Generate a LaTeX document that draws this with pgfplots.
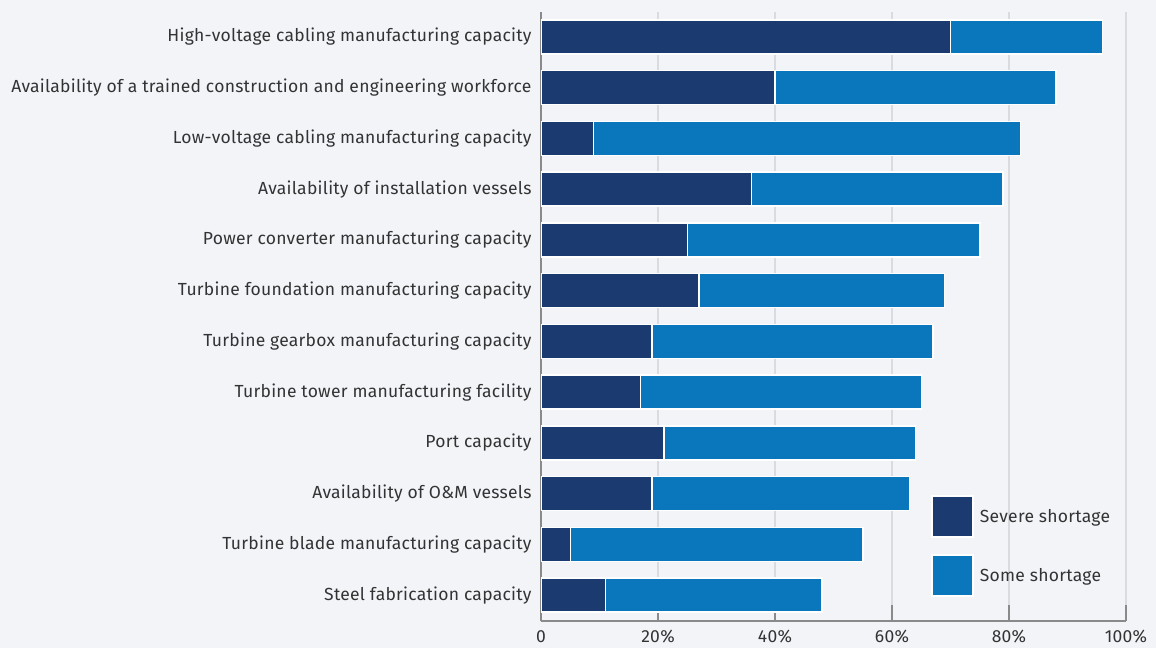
\documentclass[border=0pt]{standalone}
\usepackage{fontspec}
\setmainfont{Fira Sans}[LetterSpace=1.5]
\usepackage{pgfplots}
\pgfplotsset{compat=1.18}
\definecolor{bg}{HTML}{F3F4F8}
\definecolor{navy}{HTML}{1B3A6F}
\definecolor{sblue}{HTML}{0A76BC}
\definecolor{gridc}{HTML}{DADBE0}
\definecolor{axisc}{HTML}{8A8A8A}
\definecolor{txt}{HTML}{333333}
\begin{document}
\begin{tikzpicture}[x=1pt,y=1pt]
\fill[bg] (0,0) rectangle (1156,648);
\useasboundingbox (0,0) rectangle (1156,648);
\begin{axis}[
  at={(541pt,27pt)}, anchor=south west,
  width=585pt, height=609pt, scale only axis,
  xbar stacked, bar width=34pt,
  xmin=0, xmax=100, ymin=-0.51, ymax=11.49,
  axis x line=bottom, axis y line=left,
  axis line style={-, axisc, line width=1.5pt},
  xtick={0,20,...,100}, xticklabels={0,20\%,40\%,60\%,80\%,100\%},
  xmajorgrids, grid style={gridc, line width=1.5pt},
  major tick length=16pt, tick align=inside,
  xtick style={axisc, line width=1.5pt},
  ytick={0,...,11},
  yticklabels={Steel fabrication capacity, Turbine blade manufacturing capacity, Availability of O\&M vessels, Port capacity, Turbine tower manufacturing facility, Turbine gearbox manufacturing capacity, Turbine foundation manufacturing capacity, Power converter manufacturing capacity, Availability of installation vessels, Low-voltage cabling manufacturing capacity, Availability of a trained construction and engineering workforce, High-voltage cabling manufacturing capacity},
  ytick style={draw=none},
  yticklabel style={font=\fontsize{17.5}{20}\selectfont, text=txt, xshift=-6pt},
  xticklabel style={font=\fontsize{17.5}{20}\selectfont, text=txt, yshift=-6pt},
  legend style={at={(0.667,0.207)}, anchor=north west, draw=none, fill=none,
    inner sep=0pt, row sep=16.5pt, font=\fontsize{17.5}{20}\selectfont, text=txt,
    /tikz/every odd column/.append style={column sep=4pt}},
  legend cell align=left,
  legend image code/.code={\draw[#1, draw=white, line width=1.5pt] (0pt,-20.5pt) rectangle (41pt,20.5pt);},
]
\addplot[fill=navy, draw=white, line width=1.5pt] coordinates {(70,11) (40,10) (9,9) (36,8) (25,7) (27,6) (19,5) (17,4) (21,3) (19,2) (5,1) (11,0)};
\addplot[fill=sblue, draw=white, line width=1.5pt] coordinates {(26,11) (48,10) (73,9) (43,8) (50,7) (42,6) (48,5) (48,4) (43,3) (44,2) (50,1) (37,0)};
\legend{Severe shortage, Some shortage}
\end{axis}
\end{tikzpicture}
\end{document}
